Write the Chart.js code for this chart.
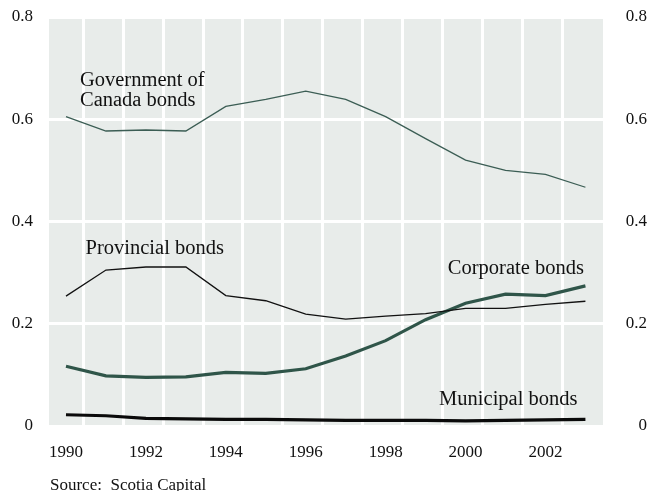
<!DOCTYPE html>
<html>
<head>
<meta charset="utf-8">
<script src="https://cdn.jsdelivr.net/npm/chart.js@4.4.1/dist/chart.umd.min.js"></script>
<style>
  html, body { margin: 0; padding: 0; background: #fff; }
  #wrap { width: 649px; height: 491px; }
</style>
</head>
<body>
<div id="wrap"><canvas id="chart"></canvas></div>
<script>
// Share of outstanding bonds, 1990-2003
const years = [1990, 1991, 1992, 1993, 1994, 1995, 1996, 1997, 1998, 1999, 2000, 2001, 2002, 2003];
const yearTicks = [1990, 1992, 1994, 1996, 1998, 2000, 2002];
const valueTicks = [0, 0.2, 0.4, 0.6, 0.8];

const government = [0.605, 0.577, 0.579, 0.577, 0.625, 0.639, 0.655, 0.639, 0.605, 0.562, 0.520, 0.500, 0.492, 0.467];
const provincial = [0.254, 0.305, 0.311, 0.311, 0.255, 0.245, 0.219, 0.209, 0.215, 0.220, 0.230, 0.230, 0.238, 0.244];
const corporate  = [0.117, 0.098, 0.095, 0.096, 0.105, 0.103, 0.112, 0.137, 0.167, 0.208, 0.240, 0.258, 0.255, 0.274];
const municipal  = [0.022, 0.020, 0.015, 0.014, 0.013, 0.013, 0.012, 0.011, 0.011, 0.011, 0.010, 0.011, 0.012, 0.013];

// series names, placed in data units next to their lines
const seriesLabels = [
  { text: 'Government of',    x: 1990.35, y: 0.665, align: 'left' },
  { text: 'Canada bonds',     x: 1990.35, y: 0.626, align: 'left' },
  { text: 'Provincial bonds', x: 1990.49, y: 0.336, align: 'left' },
  { text: 'Corporate bonds',  x: 2001.26, y: 0.297, align: 'center' },
  { text: 'Municipal bonds',  x: 2001.07, y: 0.041, align: 'center' }
];
const sourceNote = 'Source:  Scotia Capital';

const FONT = '"Liberation Serif", "Times New Roman", serif';
const PANEL = '#e8ecea';
const GRID_SHIFT = 0.43;   // white column lines sit a bit left of the midpoints
const X_MIN = 1989.575, X_MAX = 2003.44;

const toPoints = vals => years.map((yr, i) => ({ x: yr, y: vals[i] }));

const panelPlugin = {
  id: 'panel',
  beforeDraw(chart) {
    const { ctx, chartArea: a } = chart;
    ctx.save();
    ctx.fillStyle = PANEL;
    ctx.fillRect(a.left, a.top, a.right - a.left, a.bottom - a.top);
    ctx.restore();
  }
};

const textPlugin = {
  id: 'texts',
  afterDatasetsDraw(chart) {
    const { ctx, scales } = chart;
    ctx.save();
    ctx.fillStyle = '#111';
    ctx.textBaseline = 'alphabetic';
    ctx.font = '20.5px ' + FONT;
    seriesLabels.forEach(l => {
      ctx.textAlign = l.align;
      ctx.fillText(l.text, scales.x.getPixelForValue(l.x), scales.y.getPixelForValue(l.y));
    });
    ctx.font = '17px ' + FONT;
    ctx.textAlign = 'left';
    ctx.fillText(sourceNote, 50, chart.height - 1);
    ctx.restore();
  }
};

const lineSet = (label, vals, color, width) => ({
  label: label,
  data: toPoints(vals),
  borderColor: color,
  borderWidth: width,
  pointRadius: 0,
  tension: 0,
  fill: false
});

// fixed axis boxes so the plot panel lands where the original has it
const fixBox = (w, h) => axis => {
  if (w !== null) axis.width = w;
  if (h !== null) axis.height = h;
  axis.paddingTop = 0; axis.paddingBottom = 0;
  axis.paddingLeft = 0; axis.paddingRight = 0;
};

new Chart(document.getElementById('chart'), {
  type: 'line',
  data: {
    datasets: [
      lineSet('Government of Canada bonds', government, '#3b5d54', 1.3),
      lineSet('Provincial bonds', provincial, '#111111', 1.3),
      lineSet('Corporate bonds', corporate, '#2f5549', 3.2),
      lineSet('Municipal bonds', municipal, '#0a0a0a', 3.2)
    ]
  },
  options: {
    responsive: true,
    maintainAspectRatio: false,
    animation: false,
    layout: { padding: { top: 17, left: 12, right: 2, bottom: 0 } },
    plugins: {
      legend: { display: false },
      tooltip: { enabled: false }
    },
    scales: {
      x: {
        type: 'linear',
        min: X_MIN,
        max: X_MAX,
        afterBuildTicks: axis => { axis.ticks = yearTicks.map(v => ({ value: v })); },
        afterFit: fixBox(null, 65),
        ticks: {
          callback: v => String(v),
          color: '#111',
          font: { family: FONT, size: 17 },
          padding: 8,
          maxRotation: 0
        },
        grid: { display: false },
        border: { display: false }
      },
      xGrid: {
        type: 'linear',
        position: 'bottom',
        min: X_MIN,
        max: X_MAX,
        afterBuildTicks: axis => { axis.ticks = years.slice(0, -1).map(v => ({ value: v + GRID_SHIFT })); },
        afterFit: fixBox(null, 0),
        ticks: { display: false },
        grid: { color: '#ffffff', lineWidth: 3, drawTicks: false },
        border: { display: false }
      },
      y: {
        min: 0,
        max: 0.8,
        afterBuildTicks: axis => { axis.ticks = valueTicks.map(v => ({ value: v })); },
        afterFit: fixBox(37, null),
        ticks: {
          callback: v => String(+v.toFixed(1)),
          color: '#111',
          font: { family: FONT, size: 17 },
          padding: 16
        },
        grid: { color: '#ffffff', lineWidth: 3, drawTicks: false },
        border: { display: false }
      },
      y2: {
        position: 'right',
        min: 0,
        max: 0.8,
        afterBuildTicks: axis => { axis.ticks = valueTicks.map(v => ({ value: v })); },
        afterFit: fixBox(44, null),
        ticks: {
          callback: v => String(+v.toFixed(1)),
          color: '#111',
          font: { family: FONT, size: 17 },
          padding: 20,
          crossAlign: 'far'
        },
        grid: { display: false, drawTicks: false },
        border: { display: false }
      }
    }
  },
  plugins: [panelPlugin, textPlugin]
});
</script>
</body>
</html>
